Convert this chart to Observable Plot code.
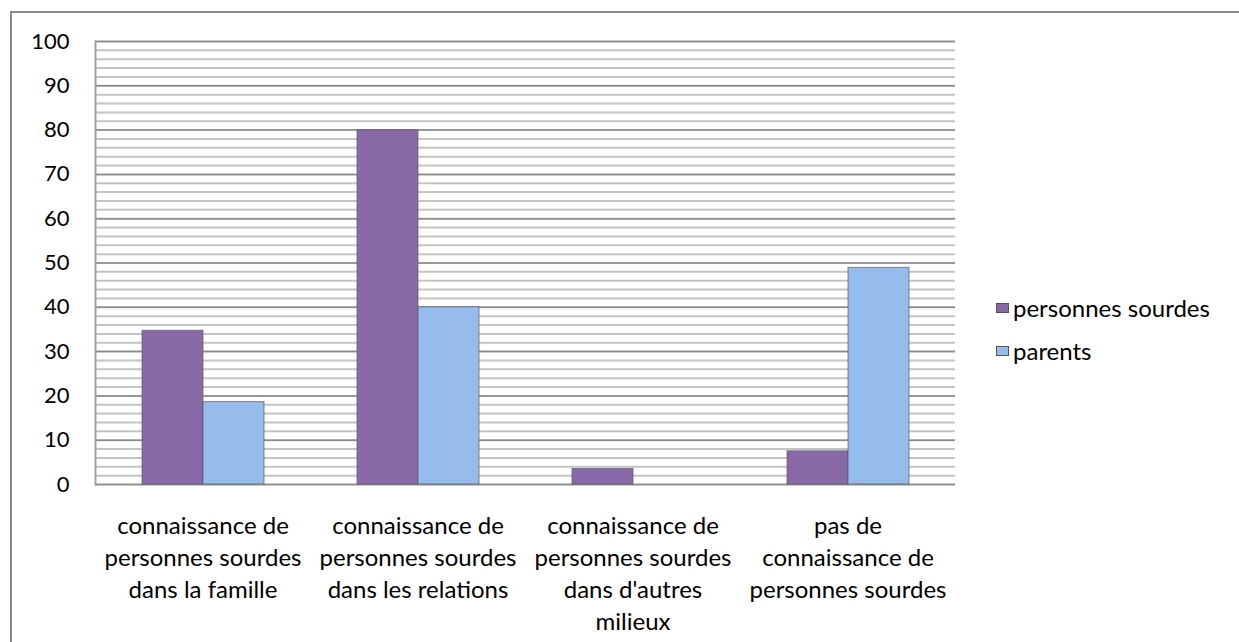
<!DOCTYPE html>
<html><head><meta charset="utf-8">
<script src="https://cdn.jsdelivr.net/npm/d3@7"></script>
<script src="https://cdn.jsdelivr.net/npm/@observablehq/plot@0.6"></script>
<style>
body{margin:0;background:#fff;font-family:Lato,sans-serif;}
#wrap{position:relative;width:1239px;height:642px;overflow:hidden;}
#border{position:absolute;left:10px;top:11px;width:1300px;height:700px;border:2px solid #898989;box-sizing:border-box;}
#chart{position:absolute;left:0;top:0;}
#legend{position:absolute;left:996px;top:286px;font-size:24px;color:#000;}
.item{display:flex;align-items:center;height:43px;white-space:nowrap;}
.sw{width:13px;height:10px;margin-right:4px;border:1px solid #555;box-sizing:border-box;}
</style>
</head><body>
<div id="wrap"><div id="border"></div><div id="chart"></div><div id="legend"></div></div>
<script>
const categories = ["famille", "relations", "autres", "aucune"];
const categoryLabels = [
  "connaissance de\npersonnes sourdes\ndans la famille",
  "connaissance de\npersonnes sourdes\ndans les relations",
  "connaissance de\npersonnes sourdes\ndans d'autres\nmilieux",
  "pas de\nconnaissance de\npersonnes sourdes"
];
const series = ["personnes sourdes", "parents"];
const sourdes = [34.7, 80, 3.5, 7.5];
const parents = [18.6, 40, 0, 48.9];
const colors = ["#8a69a9", "#95bcec"];
const yTicks = [0, 10, 20, 30, 40, 50, 60, 70, 80, 90, 100];
const minorTicks = d3.range(0, 101, 2);

const table = [];
categories.forEach((c, i) => {
  table.push({category: c, series: series[0], value: sourdes[i]});
  table.push({category: c, series: series[1], value: parents[i]});
});
const labelOf = d => categoryLabels[categories.indexOf(d)];

const chart = Plot.plot({
  width: 1239, height: 642,
  marginLeft: 94, marginRight: 284, marginTop: 41, marginBottom: 158,
  style: {fontFamily: "Lato, sans-serif", color: "#000", background: "transparent", overflow: "visible"},
  fx: {domain: categories, padding: 0, label: null},
  x: {domain: series, paddingInner: 0, paddingOuter: 0.762, axis: null},
  y: {domain: [0, 100], label: null},
  color: {domain: series, range: colors},
  marks: [
    Plot.ruleY(minorTicks, {stroke: "#c4c4c4", strokeWidth: 2}),
    Plot.ruleY(yTicks, {stroke: "#8a8a8a", strokeWidth: 1.5}),
    Plot.frame({anchor: "left", facetAnchor: "left", stroke: "#a0a0a0", strokeWidth: 2}),
    Plot.barY(table, {fx: "category", x: "series", y: "value", fill: "series", stroke: "#5a5a5a", strokeWidth: 1, strokeOpacity: 0.7}),
    Plot.axisY({ticks: yTicks, tickSize: 0, tickPadding: 26, fontSize: 22, label: null}),
    Plot.axisFx({anchor: "bottom", tickSize: 0, tickPadding: 27, fontSize: 24, lineHeight: 1.33, tickFormat: labelOf, label: null})
  ]
});
document.getElementById("chart").appendChild(chart);

const legend = document.getElementById("legend");
series.forEach((s, i) => {
  const row = document.createElement("div");
  row.className = "item";
  const sw = document.createElement("span");
  sw.className = "sw";
  sw.style.background = colors[i];
  row.appendChild(sw);
  row.appendChild(document.createTextNode(s));
  legend.appendChild(row);
});
</script>
</body></html>
